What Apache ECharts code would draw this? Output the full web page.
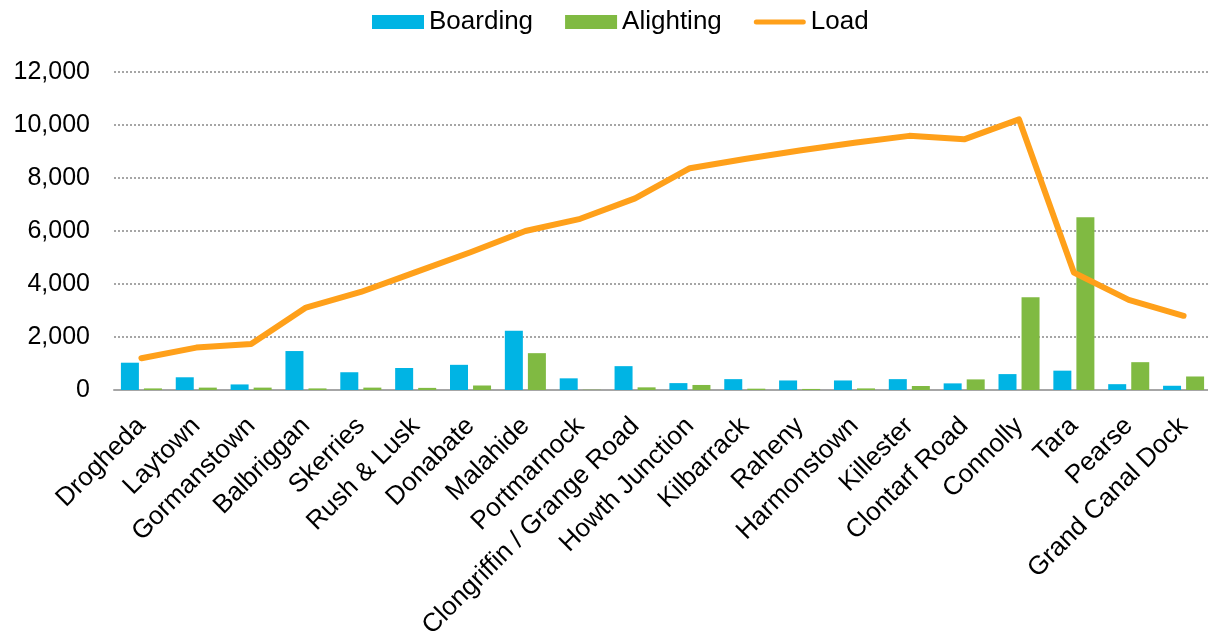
<!DOCTYPE html>
<html>
<head>
<meta charset="utf-8">
<title>Boarding, Alighting and Load by Station</title>
<script src="https://cdn.jsdelivr.net/npm/echarts@6/dist/echarts.min.js"></script>
<style>
  html, body { margin: 0; padding: 0; background: #ffffff; }
  #chart { width: 1208px; height: 637px; }
</style>
</head>
<body>
<div id="chart"></div>
<script>
// Stations along the line, in running order
const stations = [
  'Drogheda', 'Laytown', 'Gormanstown', 'Balbriggan', 'Skerries',
  'Rush & Lusk', 'Donabate', 'Malahide', 'Portmarnock',
  'Clongriffin / Grange Road', 'Howth Junction', 'Kilbarrack', 'Raheny',
  'Harmonstown', 'Killester', 'Clontarf Road', 'Connolly', 'Tara',
  'Pearse', 'Grand Canal Dock'
];

// Passengers getting on at each station
const boarding = [
  1030, 480, 210, 1470, 670, 830, 950, 2240, 440, 900,
  260, 410, 360, 360, 410, 250, 600, 730, 220, 160
];

// Passengers getting off at each station
const alighting = [
  60, 90, 90, 60, 90, 80, 170, 1390, 10, 100,
  190, 50, 40, 60, 150, 400, 3500, 6520, 1050, 510
];

// On-board load departing each station
const load = [
  1200, 1600, 1740, 3110, 3700, 4450, 5200, 6000, 6460, 7230,
  8370, 8720, 9040, 9330, 9590, 9460, 10210, 4430, 3400, 2800
];

// Value axis range
const yMin = 0;
const yMax = 12000;
const yStep = 2000;

const FONT = "'Liberation Sans', Arial, Helvetica, sans-serif";
const BLUE = '#00B4E4';
const GREEN = '#80BA42';
const ORANGE = '#FFA01A';

// Thin bar used as the legend marker of the line series
const LINE_ICON = 'path://M2.5,0 H49.5 A2.5,2.5 0 0 1 49.5,5 H2.5 A2.5,2.5 0 0 1 2.5,0 Z';

const chart = echarts.init(document.getElementById('chart'), null, { renderer: 'canvas' });

chart.setOption({
  animation: false,
  backgroundColor: '#ffffff',
  textStyle: { fontFamily: FONT },
  legend: {
    left: 367,
    top: 4,
    itemWidth: 52,
    itemHeight: 14,
    itemGap: 32,
    symbolKeepAspect: true,
    textStyle: { fontFamily: FONT, fontSize: 26, color: '#000000' },
    data: [
      { name: 'Boarding', icon: 'rect' },
      { name: 'Alighting', icon: 'rect' },
      { name: 'Load', icon: LINE_ICON }
    ]
  },
  grid: {
    left: 114,
    right: -3,
    top: 72,
    bottom: 247,
    containLabel: false,
    outerBoundsMode: 'none'
  },
  xAxis: {
    type: 'category',
    data: stations,
    boundaryGap: true,
    axisLine: { show: true, lineStyle: { color: '#A6A6A6', width: 2 } },
    axisTick: { show: false },
    axisLabel: {
      interval: 0,
      rotate: 45,
      margin: 32,
      fontFamily: FONT,
      fontSize: 26,
      color: '#000000'
    },
    splitLine: { show: false }
  },
  yAxis: {
    type: 'value',
    min: yMin,
    max: yMax,
    interval: yStep,
    axisLine: { show: false },
    axisTick: { show: false },
    axisLabel: {
      margin: 24,
      fontFamily: FONT,
      fontSize: 25,
      color: '#000000',
      formatter: v => v.toLocaleString('en-US')
    },
    splitLine: {
      show: true,
      lineStyle: { color: '#A6A6A6', width: 2, type: [2, 2] }
    }
  },
  series: [
    {
      name: 'Boarding',
      type: 'bar',
      data: boarding,
      barWidth: 18,
      barGap: '28%',
      itemStyle: { color: BLUE }
    },
    {
      name: 'Alighting',
      type: 'bar',
      data: alighting,
      barWidth: 18,
      itemStyle: { color: GREEN }
    },
    {
      name: 'Load',
      type: 'line',
      data: load,
      symbol: 'none',
      lineStyle: { color: ORANGE, width: 6, cap: 'round', join: 'round' },
      itemStyle: { color: ORANGE },
      z: 3
    }
  ]
});
</script>
</body>
</html>
